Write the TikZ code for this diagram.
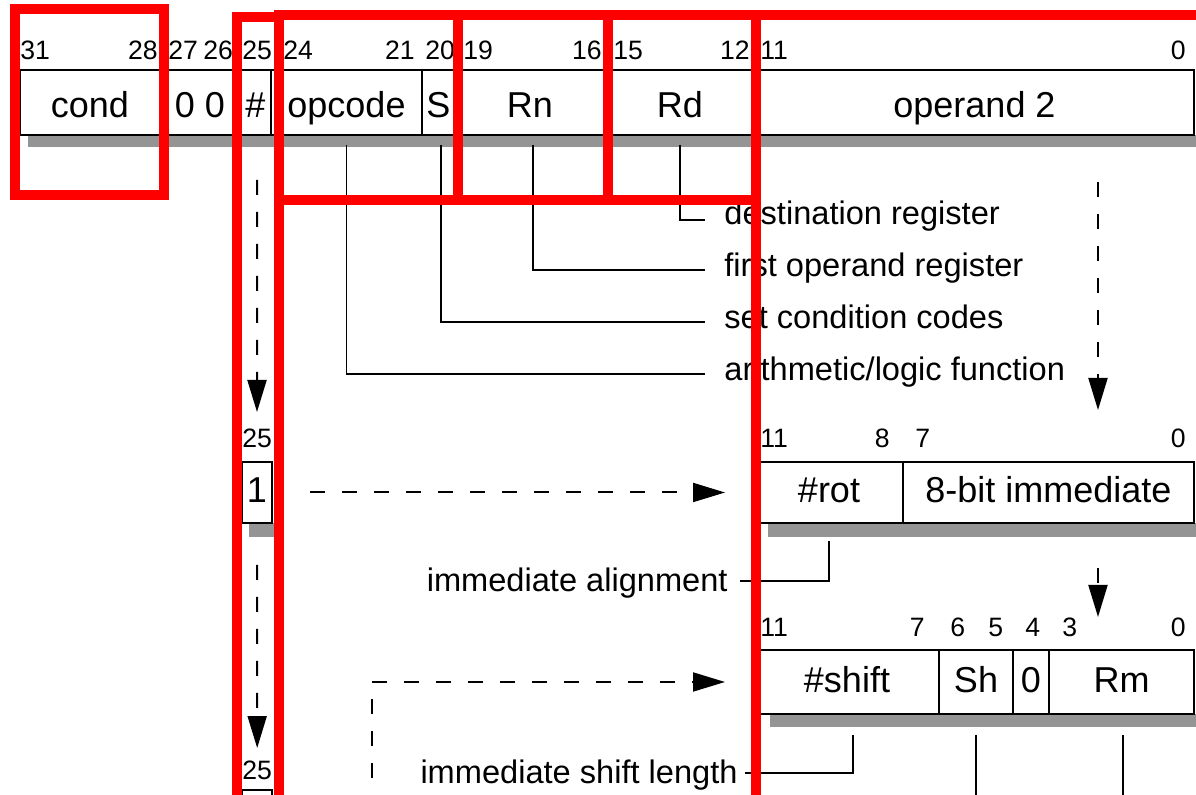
\documentclass[tikz,border=0pt]{standalone}
\usepackage{fontspec}
\setmainfont{Liberation Sans}
\usetikzlibrary{arrows.meta,calc}
\begin{document}
\begin{tikzpicture}[x=0.5pt,y=-0.5pt,
  field/.style={draw=black, line width=1.1pt, inner sep=0pt, outer sep=0pt, font=\fontsize{18}{20}\selectfont},
  rowone/.style={minimum height=32.5pt, text height=15pt, text depth=0pt},
  rowtwo/.style={minimum height=30.5pt, text height=10.5pt, text depth=0pt},
  rowthree/.style={minimum height=32pt, text height=10.5pt, text depth=0pt},
  bitnum/.style={inner sep=0pt, font=\fontsize{13.3}{15}\selectfont},
  lbl/.style={inner sep=0pt, font=\fontsize{16.3}{18}\selectfont},
  shadowband/.style={fill=black!42, draw=none},
  leader/.style={line width=0.7pt},
  dasharrow/.style={line width=1pt, dash pattern=on 7.5pt off 8.5pt, -{Triangle[length=16pt,width=9.5pt]}},
  hl/.style={draw=red, line width=5pt},
]
\useasboundingbox (0,0) rectangle (1196,795);
\clip (0,0) rectangle (1196,795);
\fill[white] (0,0) rectangle (1196,795);

% shadows
\fill[shadowband] (28,135) rectangle (1196,147);
\fill[shadowband] (249,523) rectangle (282,537);
\fill[shadowband] (768,523) rectangle (1196,537);
\fill[shadowband] (770,714) rectangle (1196,727);

% top row
\node[field, rowone, minimum width=70pt] (cond) at (90,102.5) {cond};
\node[field, rowone, minimum width=40pt] (zeros) at (200,102.5) {0 0};
\node[field, rowone, minimum width=15.5pt] (hash) at (255.5,102.5) {\#};
\node[field, rowone, minimum width=75.5pt] (opcode) at (346.5,102.5) {opcode};
\node[field, rowone, minimum width=16.5pt] (S) at (438.5,102.5) {S};
\node[field, rowone, minimum width=75pt] (Rn) at (530,102.5) {Rn};
\node[field, rowone, minimum width=75pt] (Rd) at (680,102.5) {Rd};
\node[field, rowone, minimum width=219.5pt] (op2) at (974.5,102.5) {operand 2};

% top row bit numbers
\node[bitnum, anchor=base west] (t31) at (20,60) {31};
\node[bitnum, anchor=base east] (t28) at (158,60) {28};
\node[bitnum, anchor=base west] (t27) at (168,60) {27};
\node[bitnum, anchor=base west] (t26) at (203,60) {26};
\node[bitnum, anchor=base west] (t25) at (242,60) {25};
\node[bitnum, anchor=base west] (t24) at (283,60) {24};
\node[bitnum, anchor=base east] (t21) at (415,60) {21};
\node[bitnum, anchor=base west] (t20) at (425,60) {20};
\node[bitnum, anchor=base west] (t19) at (463,60) {19};
\node[bitnum, anchor=base east] (t16) at (602,60) {16};
\node[bitnum, anchor=base west] (t15) at (613,60) {15};
\node[bitnum, anchor=base east] (t12) at (750,60) {12};
\node[bitnum, anchor=base west] (t11) at (760,60) {11};
\node[bitnum, anchor=base east] (t0) at (1186,60) {0};

% labels
\node[lbl, anchor=base west] (dest) at (724,225) {destination register};
\node[lbl, anchor=base west] (first) at (724,277) {first operand register};
\node[lbl, anchor=base west] (setcc) at (724,329) {set condition codes};
\node[lbl, anchor=base west] (arith) at (724,381) {arithmetic/logic function};

\draw[leader] ([yshift=-5pt]Rd.south) |- ([xshift=-9.5pt,yshift=2.5pt]dest.base west);
\draw[leader] ([xshift=1.5pt,yshift=-5pt]Rn.south) |- ([xshift=-9.5pt,yshift=3.5pt]first.base west);
\draw[leader] ([xshift=1.2pt,yshift=-5pt]S.south) |- ([xshift=-9.5pt,yshift=3.5pt]setcc.base west);
\draw[leader] ([yshift=-5pt]opcode.south) |- ([xshift=-9.5pt,yshift=3.5pt]arith.base west);

% second row
\node[bitnum, anchor=base west] (m25) at (242,448) {25};
\node[bitnum, anchor=base west] (m11) at (760,448) {11};
\node[bitnum, anchor=base east] (m8) at (890,448) {8};
\node[bitnum, anchor=base west] (m7) at (915,448) {7};
\node[bitnum, anchor=base east] (m0) at (1186,448) {0};

\node[field, rowtwo, minimum width=15pt] (one) at (257,492.5) {1};
\node[field, rowtwo, minimum width=74pt] (rot) at (829,492.5) {\#rot};
\node[field, rowtwo, minimum width=145.5pt] (imm) at (1048.5,492.5) {8-bit immediate};

\node[lbl, anchor=base east] (align) at (728,592) {immediate alignment};
\draw[leader] ([yshift=-9pt]rot.south) |- ([xshift=6pt,yshift=5.5pt]align.base east);

% third row
\node[bitnum, anchor=base west] (n11) at (760,637) {11};
\node[bitnum, anchor=base east] (n7) at (925,637) {7};
\node[bitnum, anchor=base west] (n6) at (950,637) {6};
\node[bitnum, anchor=base west] (n5) at (988,637) {5};
\node[bitnum, anchor=base west] (n4) at (1025,637) {4};
\node[bitnum, anchor=base west] (n3) at (1062,637) {3};
\node[bitnum, anchor=base east] (n0) at (1186,637) {0};

\node[field, rowthree, minimum width=92pt] (shift) at (847,682) {\#shift};
\node[field, rowthree, minimum width=37pt] (Sh) at (976,682) {Sh};
\node[field, rowthree, minimum width=18pt] (zero) at (1031,682) {0};
\node[field, rowthree, minimum width=72.5pt] (Rm) at (1121.5,682) {Rm};

\node[lbl, anchor=base east] (shl) at (738,784) {immediate shift length};
\draw[leader] ([xshift=3pt,yshift=-10.5pt]shift.south) |- ([xshift=3.5pt,yshift=5.5pt]shl.base east);

\coordinate (bottom) at (0,810);
\draw[leader] ([yshift=-10.5pt]Sh.south) -- (Sh.south |- bottom);
\draw[leader] ([xshift=0.75pt,yshift=-10.5pt]Rm.south) -- ([xshift=0.75pt]Rm.south |- bottom);

% bottom
\node[bitnum, anchor=base west] (b25) at (242,780) {25};
\node[field, minimum width=15pt, minimum height=35pt] (lastbox) at (257,825) {};

% dashed arrows
\coordinate (ra1) at (1098,182);
\coordinate (ra2) at (1098,410);
\coordinate (rb1) at (1098,568);
\coordinate (rb2) at (1098,617);
\coordinate (lstart) at (372,810);

\draw[dasharrow] ([xshift=0.8pt,yshift=-22.5pt]hash.south) -- ([yshift=25pt]one.north);
\draw[dasharrow] (ra1) -- (ra2);
\draw[dasharrow] ([xshift=19pt]one.east) -- ([xshift=-15pt]rot.west);
\draw[dasharrow] (rb1) -- (rb2);
\draw[dasharrow] ([yshift=-21pt]one.south) -- ([yshift=6.5pt]b25.north);
\draw[dasharrow] (lstart) |- ([xshift=-15pt]shift.west);

% red highlight boxes
\draw[hl] (15,9) rectangle (164,195);
\draw[hl] (237,17) rectangle (279,900);
\draw[hl] (279,15) rectangle (458,200);
\draw[hl] (458,15) rectangle (608,200);
\draw[hl] (608,15) rectangle (756,200);
\draw[hl] (756,15) rectangle (1260,900);
\end{tikzpicture}
\end{document}
